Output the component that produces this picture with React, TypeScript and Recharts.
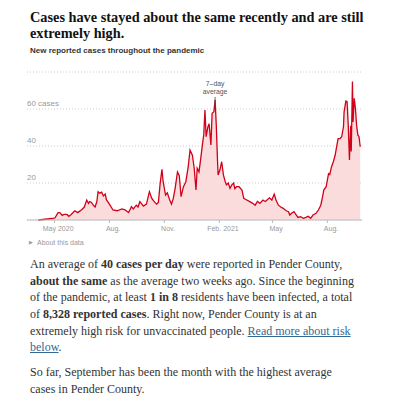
import { Area, AreaChart, CartesianGrid, ReferenceLine, XAxis, YAxis } from "recharts";

const dates = [
  "2020-04-04", "2020-04-15", "2020-04-27", "2020-05-02", "2020-05-07", "2020-05-10", "2020-05-14", "2020-05-17",
  "2020-05-22", "2020-05-25", "2020-05-29", "2020-06-04", "2020-06-09", "2020-06-16", "2020-06-20", "2020-06-24",
  "2020-06-27", "2020-06-29", "2020-07-02", "2020-07-05", "2020-07-08", "2020-07-11", "2020-07-13", "2020-07-16",
  "2020-07-19", "2020-07-22", "2020-07-25", "2020-07-27", "2020-08-02", "2020-08-07", "2020-08-14", "2020-08-22",
  "2020-08-27", "2020-09-02", "2020-09-07", "2020-09-10", "2020-09-15", "2020-09-18", "2020-09-21", "2020-09-27",
  "2020-10-02", "2020-10-07", "2020-10-11", "2020-10-15", "2020-10-19", "2020-10-22", "2020-10-25", "2020-10-28",
  "2020-10-30", "2020-11-03", "2020-11-06", "2020-11-10", "2020-11-13", "2020-11-16", "2020-11-19", "2020-11-23",
  "2020-11-26", "2020-11-29", "2020-12-03", "2020-12-07", "2020-12-11", "2020-12-14", "2020-12-18", "2020-12-21",
  "2020-12-24", "2020-12-26", "2020-12-29", "2021-01-01", "2021-01-04", "2021-01-06", "2021-01-08", "2021-01-10",
  "2021-01-13", "2021-01-15", "2021-01-18", "2021-01-20", "2021-01-23", "2021-01-25", "2021-01-27", "2021-01-29",
  "2021-01-30", "2021-02-02", "2021-02-05", "2021-02-08", "2021-02-11", "2021-02-13", "2021-02-16", "2021-02-19",
  "2021-02-22", "2021-02-25", "2021-02-27", "2021-03-02", "2021-03-06", "2021-03-11", "2021-03-14", "2021-03-19",
  "2021-03-24", "2021-03-29", "2021-04-02", "2021-04-06", "2021-04-10", "2021-04-15", "2021-04-19", "2021-04-22",
  "2021-04-26", "2021-04-30", "2021-05-04", "2021-05-07", "2021-05-11", "2021-05-15", "2021-05-19", "2021-05-24",
  "2021-05-28", "2021-05-30", "2021-06-02", "2021-06-06", "2021-06-10", "2021-06-13", "2021-06-17", "2021-06-22",
  "2021-06-26", "2021-06-30", "2021-07-04", "2021-07-08", "2021-07-13", "2021-07-17", "2021-07-21", "2021-07-24",
  "2021-07-26", "2021-07-30", "2021-08-01", "2021-08-03", "2021-08-05", "2021-08-08", "2021-08-11", "2021-08-14",
  "2021-08-17", "2021-08-19", "2021-08-22", "2021-08-25", "2021-08-28", "2021-08-29", "2021-09-01", "2021-09-03",
  "2021-09-05", "2021-09-07", "2021-09-09", "2021-09-10", "2021-09-12", "2021-09-13", "2021-09-15", "2021-09-17",
  "2021-09-19", "2021-09-21", "2021-09-23", "2021-09-25",
];

// 7-day average of new reported cases
const cases = [
  0, 0.4, 0.8, 1.2, 4, 4, 2.5, 3,
  3, 2, 3, 5, 4, 5.7, 7, 10.8,
  9, 10, 9.5, 8, 7, 10, 15.3, 14.5,
  15, 13, 14, 11, 8, 5.4, 5, 6,
  5.5, 4, 7.2, 6, 8, 7, 9.9, 7.5,
  8.6, 15.3, 11.7, 9.9, 8.6, 9.5, 19.8, 27.4,
  20.7, 13.5, 14.7, 10.8, 8.6, 11.7, 17, 26,
  24, 12.6, 18, 20.7, 28.8, 37.8, 35, 28,
  16.2, 28, 26, 33.3, 41.4, 46, 59.5, 45,
  50.4, 52, 40.5, 57.7, 58.5, 64.9, 51, 32.4,
  24.3, 27, 31.5, 24.3, 20.7, 19, 20, 17.1,
  19, 20, 17, 18, 18, 16.2, 11.7, 10.8,
  9.9, 9, 8, 10, 9, 10.8, 10, 10.8,
  12, 10.8, 14, 10.8, 8, 7, 6.3, 5,
  4.5, 2.7, 3.6, 4.5, 2.7, 1.4, 1.8, 0.9,
  1.4, 2, 0.9, 2.7, 3.6, 5.4, 8, 12.6,
  16.2, 18, 21.6, 25, 24.5, 28.8, 31.5, 35,
  40.5, 44, 44, 45, 50.4, 58.5, 64.3, 64,
  51, 32.4, 51, 37, 74.8, 53, 65.8, 60.3,
  51, 46, 45, 39.6,
];

const monthTicks = ["2020-05-01", "2020-08-01", "2020-11-01", "2021-02-01", "2021-05-01", "2021-08-01"];
const monthLabels = ["May 2020", "Aug.", "Nov.", "Feb. 2021", "May", "Aug."];
const yTicks = [20, 40, 60];
const yLabels = ["20", "40", "60 cases"];
const xDomain = ["2020-03-16", "2021-09-28"];
const peakDate = "2021-01-25";

const toTime = (s: string) => Date.UTC(+s.slice(0, 4), +s.slice(5, 7) - 1, +s.slice(8, 10));

const data = dates.map((d, i) => ({ t: toTime(d), cases: cases[i] }));
const tickTimes = monthTicks.map(toTime);

const sans = "'Liberation Sans', Arial, sans-serif";
const serif = "'Liberation Serif', Georgia, serif";

function XTick(props: any) {
  const { x, y, payload } = props;
  const i = tickTimes.indexOf(payload.value);
  return (
    <text x={x + 3.7} y={y} dy={5.5} textAnchor="middle" fontSize={7} fill="#999" fontFamily={sans}>
      {monthLabels[i]}
    </text>
  );
}

function YTick(props: any) {
  const { x, y, payload } = props;
  const i = yTicks.indexOf(payload.value);
  return (
    <text x={x} y={y - 3} textAnchor="start" fontSize={8} fill="#999" fontFamily={sans}>
      {yLabels[i]}
    </text>
  );
}

function AvgLabel(props: any) {
  const { viewBox } = props;
  const cx = viewBox.x;
  const top = viewBox.y;
  return (
    <g fontSize={6.8} fill="#555" fontFamily={sans} textAnchor="middle">
      <text x={cx} y={top - 10.5}>7–day</text>
      <text x={cx} y={top - 3}>average</text>
    </g>
  );
}

export default function App() {
  const peak = toTime(peakDate);
  return (
    <div style={{ position: "relative", width: 396, height: 400, background: "#fff", overflow: "hidden" }}>
      <style>{"body{margin:0}"}</style>

      <div
        style={{
          position: "absolute", left: 30, top: 8.7, width: 350,
          fontFamily: serif, fontWeight: 700, fontSize: 14.3, lineHeight: "16px", color: "#121212",
        }}
      >
        Cases have stayed about the same recently and are still<br />extremely high.
      </div>

      <div
        style={{
          position: "absolute", left: 30, top: 45.5, fontFamily: sans, fontWeight: 700,
          fontSize: 8, lineHeight: "10px", color: "#333", whiteSpace: "nowrap",
        }}
      >
        New reported cases throughout the pandemic
      </div>

      <div style={{ position: "absolute", left: 0, top: 0 }}>
        <AreaChart width={396} height={240} data={data} margin={{ top: 72, right: 34, bottom: 0, left: 0 }}>
          <CartesianGrid vertical={false} stroke="#ccc" strokeDasharray="1 2" />
          <XAxis
            dataKey="t"
            type="number"
            domain={xDomain.map(toTime)}
            allowDataOverflow
            ticks={tickTimes}
            interval={0}
            tick={XTick}
            height={20}
            tickSize={3}
            tickMargin={2}
            axisLine={{ stroke: "#bbb" }}
            tickLine={{ stroke: "#bbb" }}
          />
          <YAxis
            type="number"
            domain={[0, 80]}
            ticks={yTicks}
            interval={0}
            width={27}
            tick={YTick}
            tickSize={0}
            tickMargin={0}
            axisLine={false}
            tickLine={false}
          />
          <Area
            type="linear"
            dataKey="cases"
            stroke="#d0021b"
            strokeWidth={1.3}
            fill="#fbdcdc"
            fillOpacity={1}
            dot={false}
            activeDot={false}
            isAnimationActive={false}
          />
          <ReferenceLine
            segment={[{ x: peak, y: 60 }, { x: peak, y: 66.5 }]}
            stroke="#444"
            strokeWidth={0.8}
            label={AvgLabel}
          />
        </AreaChart>
      </div>

      <div
        style={{
          position: "absolute", left: 29, top: 238, fontFamily: sans, fontSize: 7,
          lineHeight: "9px", color: "#999", whiteSpace: "nowrap",
        }}
      >
        <span style={{ fontSize: 5, marginRight: 4, verticalAlign: "1px" }}>▶</span>About this data
      </div>

      <div
        style={{
          position: "absolute", left: 30, top: 255.9, fontFamily: serif, fontSize: 12,
          lineHeight: "16.7px", color: "#333", whiteSpace: "nowrap",
        }}
      >
        An average of <b>40 cases per day</b> were reported in Pender County,<br />
        <b>about the same</b> as the average two weeks ago. Since the beginning<br />
        of the pandemic, at least <b>1 in 8</b> residents have been infected, a total<br />
        of <b>8,328 reported cases</b>. Right now, Pender County is at an<br />
        extremely high risk for unvaccinated people.{" "}
        <span style={{ color: "#326891", textDecoration: "underline" }}>Read more about risk</span><br />
        <span style={{ color: "#326891", textDecoration: "underline" }}>below</span>.
      </div>

      <div
        style={{
          position: "absolute", left: 30, top: 363.8, fontFamily: serif, fontSize: 12,
          lineHeight: "16.7px", color: "#333", whiteSpace: "nowrap",
        }}
      >
        So far, September has been the month with the highest average<br />
        cases in Pender County.
      </div>
    </div>
  );
}
